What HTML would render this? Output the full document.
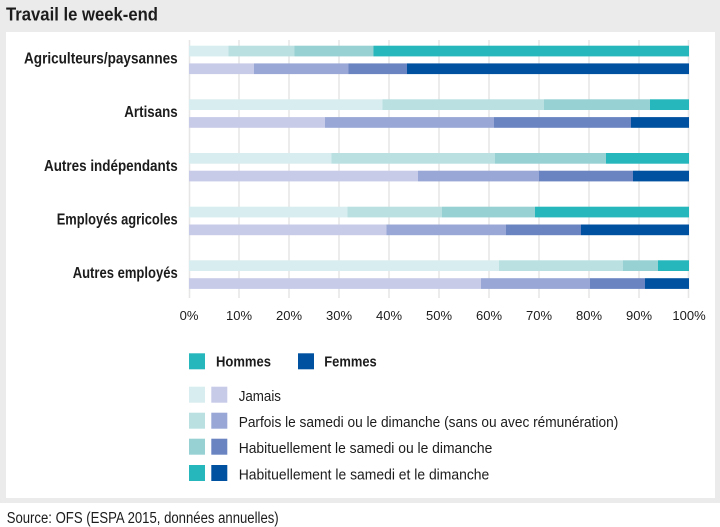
<!DOCTYPE html>
<html><head><meta charset="utf-8"><style>
html,body{margin:0;padding:0;background:#fff;}
svg{display:block;}
text{font-family:"Liberation Sans",sans-serif;fill:#1c1c1c;}
.b{font-weight:bold;}
</style></head><body>
<svg width="720" height="527" viewBox="0 0 720 527" xmlns="http://www.w3.org/2000/svg">
<rect x="0" y="0" width="720" height="503" fill="#ebebeb"/>
<rect x="6" y="32" width="709" height="466" fill="#ffffff"/>
<text class="b" x="6" y="20.7" font-size="18.5" textLength="152" lengthAdjust="spacingAndGlyphs">Travail le week-end</text>
<g stroke="#e6e6e6" stroke-width="1.5">
<line x1="189.5" y1="40" x2="189.5" y2="298"/>
<line x1="239" y1="40" x2="239" y2="298"/>
<line x1="289" y1="40" x2="289" y2="298"/>
<line x1="339" y1="40" x2="339" y2="298"/>
<line x1="389" y1="40" x2="389" y2="298"/>
<line x1="439" y1="40" x2="439" y2="298"/>
<line x1="489" y1="40" x2="489" y2="298"/>
<line x1="539" y1="40" x2="539" y2="298"/>
<line x1="589" y1="40" x2="589" y2="298"/>
<line x1="639" y1="40" x2="639" y2="298"/>
<line x1="688.5" y1="40" x2="688.5" y2="298"/>
</g>
<!-- Agriculteurs -->
<g>
<rect x="189" y="45.7" width="39.5" height="10.7" fill="#d8edef"/>
<rect x="228.5" y="45.7" width="66" height="10.7" fill="#bae0e1"/>
<rect x="294.5" y="45.7" width="79" height="10.7" fill="#97d1d4"/>
<rect x="373.5" y="45.7" width="315.5" height="10.7" fill="#26b7bc"/>
<rect x="189" y="63.4" width="65" height="10.7" fill="#c7cbe8"/>
<rect x="254" y="63.4" width="94.5" height="10.7" fill="#98a7d5"/>
<rect x="348.5" y="63.4" width="58.5" height="10.7" fill="#6a84c2"/>
<rect x="407" y="63.4" width="282" height="10.7" fill="#0051a0"/>
</g>
<g>
<rect x="189" y="99.3" width="193.5" height="10.7" fill="#d8edef"/>
<rect x="382.5" y="99.3" width="161.5" height="10.7" fill="#bae0e1"/>
<rect x="544" y="99.3" width="106" height="10.7" fill="#97d1d4"/>
<rect x="650" y="99.3" width="39" height="10.7" fill="#26b7bc"/>
<rect x="189" y="117.1" width="136" height="10.7" fill="#c7cbe8"/>
<rect x="325" y="117.1" width="169" height="10.7" fill="#98a7d5"/>
<rect x="494" y="117.1" width="137" height="10.7" fill="#6a84c2"/>
<rect x="631" y="117.1" width="58" height="10.7" fill="#0051a0"/>
</g>
<g>
<rect x="189" y="153" width="142.5" height="10.7" fill="#d8edef"/>
<rect x="331.5" y="153" width="163.5" height="10.7" fill="#bae0e1"/>
<rect x="495" y="153" width="111" height="10.7" fill="#97d1d4"/>
<rect x="606" y="153" width="83" height="10.7" fill="#26b7bc"/>
<rect x="189" y="170.7" width="229" height="10.7" fill="#c7cbe8"/>
<rect x="418" y="170.7" width="121" height="10.7" fill="#98a7d5"/>
<rect x="539" y="170.7" width="94" height="10.7" fill="#6a84c2"/>
<rect x="633" y="170.7" width="56" height="10.7" fill="#0051a0"/>
</g>
<g>
<rect x="189" y="206.7" width="158.5" height="10.7" fill="#d8edef"/>
<rect x="347.5" y="206.7" width="94.5" height="10.7" fill="#bae0e1"/>
<rect x="442" y="206.7" width="93" height="10.7" fill="#97d1d4"/>
<rect x="535" y="206.7" width="154" height="10.7" fill="#26b7bc"/>
<rect x="189" y="224.5" width="197.5" height="10.7" fill="#c7cbe8"/>
<rect x="386.5" y="224.5" width="119.5" height="10.7" fill="#98a7d5"/>
<rect x="506" y="224.5" width="75" height="10.7" fill="#6a84c2"/>
<rect x="581" y="224.5" width="108" height="10.7" fill="#0051a0"/>
</g>
<g>
<rect x="189" y="260.3" width="310" height="10.7" fill="#d8edef"/>
<rect x="499" y="260.3" width="124" height="10.7" fill="#bae0e1"/>
<rect x="623" y="260.3" width="35" height="10.7" fill="#97d1d4"/>
<rect x="658" y="260.3" width="31" height="10.7" fill="#26b7bc"/>
<rect x="189" y="278.2" width="292" height="10.7" fill="#c7cbe8"/>
<rect x="481" y="278.2" width="109" height="10.7" fill="#98a7d5"/>
<rect x="590" y="278.2" width="55" height="10.7" fill="#6a84c2"/>
<rect x="645" y="278.2" width="44" height="10.7" fill="#0051a0"/>
</g>
<g class="b" font-size="16" text-anchor="end">
<text class="b" x="177.7" y="63.4" textLength="153.7" lengthAdjust="spacingAndGlyphs">Agriculteurs/paysannes</text>
<text class="b" x="177.7" y="117.1" textLength="53.4" lengthAdjust="spacingAndGlyphs">Artisans</text>
<text class="b" x="177.7" y="170.8" textLength="133.7" lengthAdjust="spacingAndGlyphs">Autres indépendants</text>
<text class="b" x="177.7" y="224.4" textLength="121" lengthAdjust="spacingAndGlyphs">Employés agricoles</text>
<text class="b" x="177.7" y="278.1" textLength="105" lengthAdjust="spacingAndGlyphs">Autres employés</text>
</g>
<g font-size="13" text-anchor="middle">
<text x="189" y="320">0%</text>
<text x="239" y="320">10%</text>
<text x="289" y="320">20%</text>
<text x="339" y="320">30%</text>
<text x="389" y="320">40%</text>
<text x="439" y="320">50%</text>
<text x="489" y="320">60%</text>
<text x="539" y="320">70%</text>
<text x="589" y="320">80%</text>
<text x="639" y="320">90%</text>
<text x="689" y="320">100%</text>
</g>
<rect x="189" y="353.3" width="16" height="16" fill="#26b7bc"/>
<text class="b" x="216" y="366.5" font-size="15" textLength="55" lengthAdjust="spacingAndGlyphs">Hommes</text>
<rect x="298" y="353.3" width="16" height="16" fill="#0051a0"/>
<text class="b" x="324.3" y="366.5" font-size="15" textLength="52.4" lengthAdjust="spacingAndGlyphs">Femmes</text>

<rect x="189" y="386.7" width="16" height="16" fill="#d8edef"/>
<rect x="211.3" y="386.7" width="16" height="16" fill="#c7cbe8"/>
<text x="238.7" y="401" font-size="15" textLength="42.3" lengthAdjust="spacingAndGlyphs">Jamais</text>
<rect x="189" y="412.7" width="16" height="16" fill="#bae0e1"/>
<rect x="211.3" y="412.7" width="16" height="16" fill="#98a7d5"/>
<text x="238.7" y="427" font-size="15" textLength="379.6" lengthAdjust="spacingAndGlyphs">Parfois le samedi ou le dimanche (sans ou avec rémunération)</text>
<rect x="189" y="438.7" width="16" height="16" fill="#97d1d4"/>
<rect x="211.3" y="438.7" width="16" height="16" fill="#6a84c2"/>
<text x="238.7" y="453" font-size="15" textLength="253.6" lengthAdjust="spacingAndGlyphs">Habituellement le samedi ou le dimanche</text>
<rect x="189" y="465" width="16" height="16" fill="#26b7bc"/>
<rect x="211.3" y="465" width="16" height="16" fill="#0051a0"/>
<text x="238.7" y="479.3" font-size="15" textLength="250.6" lengthAdjust="spacingAndGlyphs">Habituellement le samedi et le dimanche</text>

<text x="6.7" y="523" font-size="15.5" textLength="272" lengthAdjust="spacingAndGlyphs">Source: OFS (ESPA 2015, données annuelles)</text>
</svg>
</body></html>
